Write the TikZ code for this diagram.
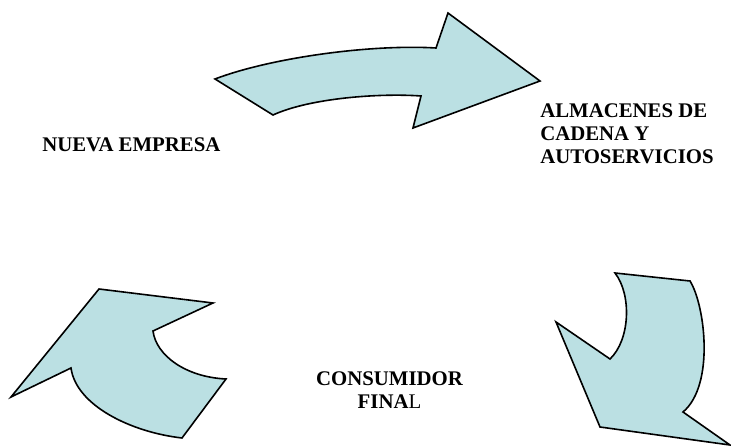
\documentclass[tikz,border=0pt]{standalone}
\usepackage{fontspec}
\setmainfont{Liberation Serif}
\usepackage{xcolor}
\usepackage{tikz}
\definecolor{flecha}{RGB}{187,224,227}

\begin{document}
\begin{tikzpicture}[x=0.75pt,y=-0.75pt,
        flechas/.style={draw=black, fill=flecha, line width=1.2pt, line join=miter},
        etiqueta/.style={inner sep=0pt, font=\fontsize{15.6}{17.6}\selectfont\bfseries}]
        \useasboundingbox (0,0) rectangle (731,448);
        % flecha de arriba
        \coordinate (a1) at (215,79);
        \coordinate (a2) at (436,48);
        \coordinate (a3) at (448,13);
        \coordinate (a4) at (540,81);
        \coordinate (a5) at (413,128);
        \coordinate (a6) at (421,96);
        \coordinate (a7) at (273,115);
        \draw[flechas] (a1) .. controls (270,58) and (370,44) .. (a2) -- (a3) -- (a4) -- (a5) -- (a6)
                .. controls (380,93) and (310,98) .. (a7) -- cycle;
        % flecha de abajo a la derecha
        \coordinate (b1) at (615,273);
        \coordinate (b2) at (690,281);
        \coordinate (b3) at (683,412);
        \coordinate (b4) at (730,445);
        \coordinate (b5) at (600,427);
        \coordinate (b6) at (556,322);
        \coordinate (b7) at (610,359);
        \draw[flechas] (b1) -- (b2) .. controls (705,305) and (715,385) .. (b3) -- (b4) -- (b5) -- (b6) -- (b7)
                .. controls (630,340) and (632,295) .. (b1) -- cycle;
        % flecha de abajo a la izquierda
        \coordinate (c1) at (99,289);
        \coordinate (c2) at (213,303);
        \coordinate (c3) at (153,331);
        \coordinate (c4) at (226,379);
        \coordinate (c5) at (182,438);
        \coordinate (c6) at (71,368);
        \coordinate (c7) at (11,397);
        \draw[flechas] (c1) -- (c2) -- (c3) .. controls (156,355) and (185,377) .. (c4) -- (c5)
                .. controls (130,432) and (76,405) .. (c6) -- (c7) -- cycle;

        \node[etiqueta, anchor=base west] (empresa) at (42,152) {NUEVA EMPRESA};
        \node[etiqueta, anchor=base west, align=left] (almacenes) at (540,164) {ALMACENES DE\\CADENA Y\\AUTOSERVICIOS};
        \node[etiqueta, anchor=base, align=center] (consumidor) at (389.5,409) {CONSUMIDOR\\FINA{\mdseries L}};
\end{tikzpicture}
\end{document}
